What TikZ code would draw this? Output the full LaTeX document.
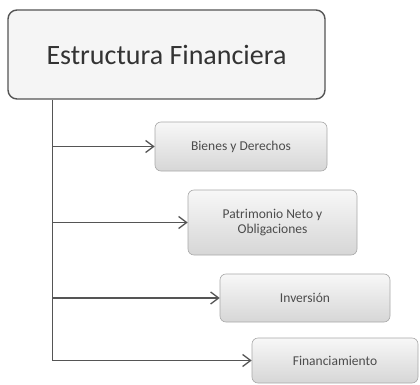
\documentclass[tikz,border=0pt]{standalone}
\usepackage{fontspec}
\setmainfont{Carlito}
\usetikzlibrary{arrows.meta}
\definecolor{linegray}{HTML}{555555}
\definecolor{boxedge}{HTML}{A8A8A8}
\begin{document}
\begin{tikzpicture}[x=1pt,y=1pt,
  mainbox/.style={draw=linegray, line width=1.4pt, fill=gray!8, rounded corners=9pt,
    minimum width=317pt, minimum height=89pt, inner sep=0pt, font=\fontsize{28}{32}\selectfont, text=black!80},
  subbox/.style={draw=boxedge, line width=0.6pt, top color=gray!6, bottom color=gray!32,
    rounded corners=6pt, inner sep=0pt, align=center, font=\fontsize{13.5}{15.5}\selectfont, text=black!70},
  conn/.style={draw=linegray, line width=1.5pt},
  arr/.style={conn, -{Straight Barb[length=8pt,width=12pt,line width=1.3pt]}}
]
\useasboundingbox (0,0) rectangle (420,-385);
\node[mainbox] (main) at (166.5,-54.5) {Estructura Financiera};
\node[subbox, minimum width=172pt, minimum height=49pt] (b1) at (241,-146.5) {Bienes y Derechos};
\node[subbox, minimum width=169pt, minimum height=65pt] (b2) at (272.5,-222.5) {Patrimonio Neto y\\Obligaciones};
\node[subbox, minimum width=170pt, minimum height=48pt] (b3) at (305,-298) {Inversión};
\node[subbox, minimum width=166pt, minimum height=45pt] (b4) at (335,-360.5) {Financiamiento};
\coordinate (trunk) at ([xshift=45pt]main.south west);
\draw[arr] (trunk) -- (trunk |- b4.west) -- (b4.west);
\draw[arr] (trunk |- b1.west) -- (b1.west);
\draw[arr] (trunk |- b2.west) -- (b2.west);
\draw[arr] (trunk |- b3.west) -- (b3.west);
\end{tikzpicture}
\end{document}
